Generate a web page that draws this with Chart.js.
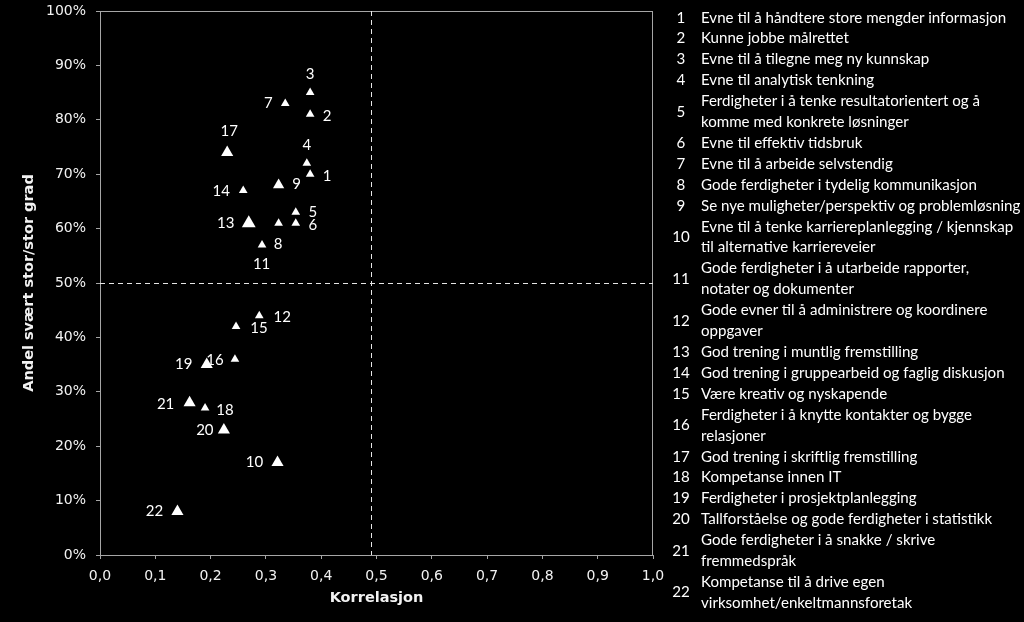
<!DOCTYPE html>
<html>
<head>
<meta charset="utf-8">
<script src="https://cdn.jsdelivr.net/npm/chart.js@4/dist/chart.umd.min.js"></script>
<style>
  html, body { margin: 0; padding: 0; background: #000; }
  #wrap { position: relative; width: 1024px; height: 622px; overflow: hidden; }
  #myChart { position: absolute; left: 0; top: 0; }
  #legend { position: absolute; left: 666px; top: 6.5px; width: 358px;
            font-family: Lato, "Noto Sans", sans-serif; font-size: 15.1px; color: #fff; }
  .item { display: flex; align-items: center; line-height: 20.9px; }
  .num { width: 30px; text-align: center; flex: none; }
  .txt { padding-left: 5px; white-space: nowrap; }
</style>
</head>
<body>
<div id="wrap">
  <canvas id="myChart" width="1024" height="622"></canvas>
  <div id="legend"></div>
</div>
<script>
// item numbers, correlation (x) and share "svært stor/stor grad" in percent (y)
var ids = [1, 2, 3, 4, 5, 6, 7, 8, 9, 10, 11, 12, 13, 14, 15, 16, 17, 18, 19, 20, 21, 22];
var korrelasjon = [0.38, 0.38, 0.38, 0.374, 0.354, 0.354, 0.335, 0.293, 0.323, 0.321, 0.323,
                   0.288, 0.269, 0.259, 0.246, 0.244, 0.230, 0.190, 0.193, 0.224, 0.162, 0.140];
var andel = [70, 81, 85, 72, 63, 61, 83, 57, 68, 17, 61,
             44, 61, 67, 42, 36, 74, 27, 35, 23, 28, 8];
var names = [
  ["Evne til å håndtere store mengder informasjon"],
  ["Kunne jobbe målrettet"],
  ["Evne til å tilegne meg ny kunnskap"],
  ["Evne til analytisk tenkning"],
  ["Ferdigheter i å tenke resultatorientert og å", "komme med konkrete løsninger"],
  ["Evne til effektiv tidsbruk"],
  ["Evne til å arbeide selvstendig"],
  ["Gode ferdigheter i tydelig kommunikasjon"],
  ["Se nye muligheter/perspektiv og problemløsning"],
  ["Evne til å tenke karriereplanlegging / kjennskap", "til alternative karriereveier"],
  ["Gode ferdigheter i å utarbeide rapporter,", "notater og dokumenter"],
  ["Gode evner til å administrere og koordinere", "oppgaver"],
  ["God trening i muntlig fremstilling"],
  ["God trening i gruppearbeid og faglig diskusjon"],
  ["Være kreativ og nyskapende"],
  ["Ferdigheter i å knytte kontakter og bygge", "relasjoner"],
  ["God trening i skriftlig fremstilling"],
  ["Kompetanse innen IT"],
  ["Ferdigheter i prosjektplanlegging"],
  ["Tallforståelse og gode ferdigheter i statistikk"],
  ["Gode ferdigheter i å snakke / skrive", "fremmedspråk"],
  ["Kompetanse til å drive egen", "virksomhet/enkeltmannsforetak"]
];
var xTicks = [0, 0.1, 0.2, 0.3, 0.4, 0.5, 0.6, 0.7, 0.8, 0.9, 1.0];
var snittKorrelasjon = 0.49;
var snittAndel = 50;

// styling only: marker size and where each number label sits relative to its marker
var radius = [5, 5, 5, 5, 5, 5, 5, 5, 6.5, 7, 5, 5, 8, 5, 5, 5, 7, 5, 7, 7, 7, 7];
var labelOffset = [[17, 2], [17, 2], [0, -18], [0, -18], [17, 0], [17, 2], [-17, 0], [16, -1],
                   [18, -1], [-23, 0], [-17, 41], [23, 2], [-23, 0], [-22, 1], [23, 2], [-20, 1],
                   [2, -21], [20, 2], [-23, 0], [-19, 0], [-24, 1], [-23, 0]];

var legendEl = document.getElementById('legend');
names.forEach(function(lines, i) {
  var row = document.createElement('div');
  row.className = 'item';
  var n = document.createElement('div');
  n.className = 'num';
  n.textContent = ids[i];
  var t = document.createElement('div');
  t.className = 'txt';
  t.innerHTML = lines.map(function(s) { return '<div>' + s + '</div>'; }).join('');
  row.appendChild(n);
  row.appendChild(t);
  legendEl.appendChild(row);
});

var points = korrelasjon.map(function(v, i) { return {x: v, y: andel[i]}; });

var overlay = {
  id: 'overlay',
  beforeDatasetsDraw: function(chart) {
    var c = chart.ctx, a = chart.chartArea;
    var xs = chart.scales.x, ys = chart.scales.y;
    c.save();
    c.strokeStyle = '#a6a6a6';
    c.lineWidth = 1;
    c.strokeRect(a.left + 0.5, a.top + 0.5, a.right - a.left - 1, a.bottom - a.top);
    c.strokeStyle = '#e6e6e6';
    c.setLineDash([5, 4]);
    var px = Math.round(xs.getPixelForValue(snittKorrelasjon)) + 0.5;
    var py = Math.round(ys.getPixelForValue(snittAndel)) + 0.5;
    c.beginPath();
    c.moveTo(px, a.top); c.lineTo(px, a.bottom);
    c.moveTo(a.left, py); c.lineTo(a.right, py);
    c.stroke();
    c.restore();
  },
  afterDatasetsDraw: function(chart) {
    var c = chart.ctx;
    var meta = chart.getDatasetMeta(0);
    c.save();
    c.fillStyle = '#fff';
    c.font = '15px Lato, "Noto Sans", sans-serif';
    c.textAlign = 'center';
    c.textBaseline = 'middle';
    meta.data.forEach(function(el, i) {
      c.fillText(String(ids[i]), el.x + labelOffset[i][0], el.y + labelOffset[i][1]);
    });
    c.restore();
  }
};

var ctx = document.getElementById('myChart');
var myChart = new Chart(ctx, {
  type: 'scatter',
  data: {
    datasets: [{
      label: 'Kompetanse',
      data: points,
      pointStyle: 'triangle',
      pointRadius: radius,
      pointHoverRadius: radius,
      backgroundColor: '#fff',
      borderColor: '#fff',
      borderWidth: 0
    }]
  },
  options: {
    responsive: false,
    animation: false,
    layout: { padding: { top: 11, right: 371, left: 0, bottom: 0 } },
    plugins: { legend: { display: false }, tooltip: { enabled: false } },
    scales: {
      x: {
        min: 0, max: 1,
        afterBuildTicks: function(scale) { scale.ticks = xTicks.map(function(v) { return {value: v}; }); },
        afterFit: function(scale) { scale.height = 67; scale.paddingLeft = 0; scale.paddingRight = 0; },
        border: { color: '#a6a6a6' },
        grid: { drawOnChartArea: false, color: '#a6a6a6', tickLength: 4 },
        ticks: {
          color: '#f2f2f2', padding: 9, maxRotation: 0,
          font: { family: '"DejaVu Sans"', size: 14 },
          callback: function(v) { return v.toFixed(1).replace('.', ','); }
        },
        title: {
          display: true, text: 'Korrelasjon', color: '#f2f2f2',
          font: { family: '"DejaVu Sans"', size: 14.5, weight: 'bold' },
          padding: { top: 0, bottom: 15 }
        }
      },
      y: {
        min: 0, max: 100,
        afterFit: function(scale) { scale.width = 100; scale.paddingTop = 0; scale.paddingBottom = 0; },
        border: { color: '#a6a6a6' },
        grid: { drawOnChartArea: false, color: '#a6a6a6', tickLength: 4 },
        ticks: {
          stepSize: 10, color: '#f2f2f2', padding: 10,
          font: { family: '"DejaVu Sans"', size: 14 },
          callback: function(v) { return v + '%'; }
        },
        title: {
          display: true, text: 'Andel svært stor/stor grad', color: '#f2f2f2',
          font: { family: '"DejaVu Sans"', size: 14.5, weight: 'bold' },
          padding: { top: 21, bottom: 0 }
        }
      }
    }
  },
  plugins: [overlay]
});
</script>
</body>
</html>
